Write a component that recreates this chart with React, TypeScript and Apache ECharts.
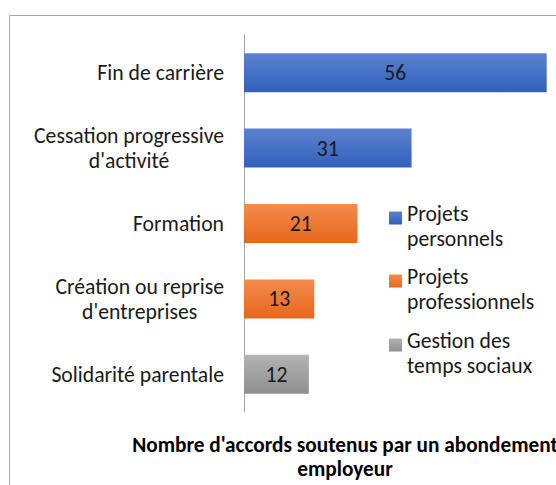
import React, { useEffect, useRef } from "react";
import * as echarts from "echarts";

const categories = [
  "Fin de carrière",
  "Cessation progressive\nd'activité",
  "Formation",
  "Création ou reprise\nd'entreprises",
  "Solidarité parentale",
];
const seriesNames = ["Projets personnels", "Projets professionnels", "Gestion des temps sociaux"];
const projetsPersonnels = [56, 31, "-", "-", "-"];
const projetsProfessionnels = ["-", "-", 21, 13, "-"];
const gestionTempsSociaux = ["-", "-", "-", "-", 12];
const legendLabels = ["Projets\npersonnels", "Projets\nprofessionnels", "Gestion des\ntemps sociaux"];
const titleText = "Nombre d'accords soutenus par un abondement\nemployeur";

const FONT = "Carlito, Lato, sans-serif";
const TEXT = "#1a1a1a";
const FS = 21.7;
const SPACER = 16;
const LH = 25;

export default function App() {
  const ref = useRef<HTMLDivElement>(null);
  useEffect(() => {
    if (!ref.current) return;
    const chart = echarts.init(ref.current, undefined, { renderer: "svg" });
    const grad = (a: string, b: string) =>
      new echarts.graphic.LinearGradient(0, 0, 0, 1, [
        { offset: 0, color: a },
        { offset: 1, color: b },
      ]);
    const colors = [grad("#5c82ce", "#2f61bb"), grad("#f38c4e", "#e7671b"), grad("#b3b3b3", "#8f8f8f")];
    const dataSets = [projetsPersonnels, projetsProfessionnels, gestionTempsSociaux];
    const legendTops = [192, 255, 319];
    chart.setOption({
      animation: false,
      graphic: [
        {
          type: "rect",
          shape: { x: 9.5, y: 15.5, width: 670, height: 600 },
          style: { fill: "none", stroke: "#a6a6a6", lineWidth: 1 },
          silent: true,
          z: -10,
        },
      ],
      title: {
        text: titleText,
        left: "center",
        top: 433,
        padding: 0,
        textStyle: { fontSize: 21.3, fontWeight: "bold", lineHeight: 24, color: "#000", fontFamily: FONT },
      },
      legend: seriesNames.map((n, i) => ({
        data: [n],
        orient: "vertical",
        left: 389,
        top: legendTops[i],
        padding: 0,
        itemWidth: 13,
        itemHeight: 13,
        icon: "rect",
        formatter: () =>
          "{s| }\n" + legendLabels[i].split("\n").map((l) => `{a|${l}}`).join("\n"),
        textStyle: {
          fontSize: FS,
          color: TEXT,
          fontFamily: FONT,
          rich: {
            s: { fontSize: 2, lineHeight: SPACER },
            a: { fontSize: FS, lineHeight: LH, color: TEXT, fontFamily: FONT },
          },
        },
      })),
      grid: { left: 244, top: 35, width: 302.7, height: 377 },
      xAxis: { type: "value", min: 0, max: 56, show: false },
      yAxis: {
        type: "category",
        data: categories,
        inverse: true,
        axisLine: { lineStyle: { color: "#a6a6a6", width: 1 } },
        axisTick: { show: false },
        axisLabel: {
          margin: 20,
          fontSize: FS,
          fontFamily: FONT,
          color: TEXT,
          lineHeight: 25,
          formatter: (v: string) => v.split("\n").map((l) => `{c|${l}}`).join("\n"),
          rich: { c: { align: "center", fontSize: FS, fontFamily: FONT, color: TEXT, lineHeight: 25 } },
        },
      },
      series: seriesNames.map((n, i) => ({
        name: n,
        type: "bar",
        stack: "total",
        barWidth: 39,
        data: dataSets[i],
        itemStyle: { color: colors[i] },
        label: { show: true, position: "inside", fontSize: FS, color: TEXT, fontFamily: FONT },
      })),
    });
    return () => chart.dispose();
  }, []);
  return (
    <div
      ref={ref}
      style={{ position: "fixed", left: 0, top: 0, width: 690, height: 500, background: "#fff" }}
    />
  );
}
